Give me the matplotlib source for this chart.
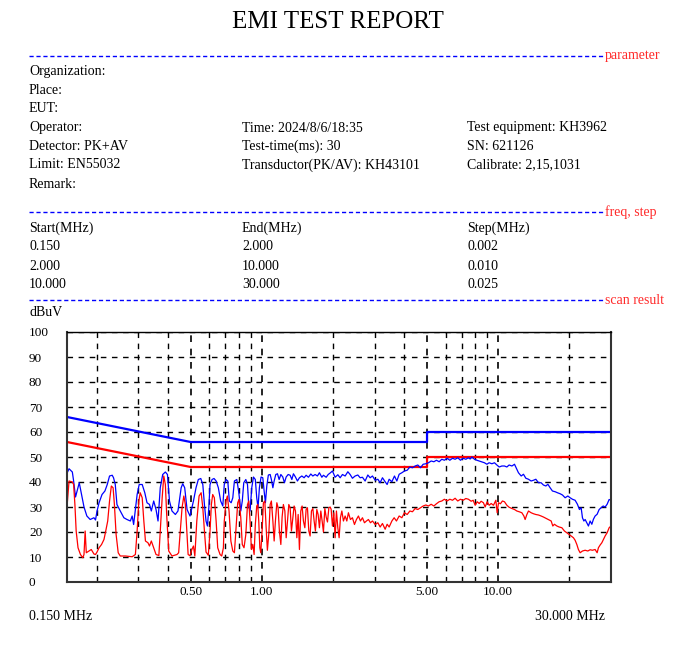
import matplotlib
matplotlib.use("Agg")
import matplotlib.pyplot as plt
from matplotlib.lines import Line2D
from matplotlib.ticker import NullFormatter

plt.rcParams['font.family'] = ['Liberation Serif', 'DejaVu Serif']

# ---- report fields ----
info_rows = [
    ["Organization:", "", ""],
    ["Place:", "", ""],
    ["EUT:", "", ""],
    ["Operator:", "Time: 2024/8/6/18:35", "Test equipment: KH3962"],
    ["Detector: PK+AV", "Test-time(ms): 30", "SN: 621126"],
    ["Limit: EN55032", "Transductor(PK/AV): KH43101", "Calibrate: 2,15,1031"],
    ["Remark:", "", ""],
]
range_header = ["Start(MHz)", "End(MHz)", "Step(MHz)"]
range_rows = [
    ["0.150", "2.000", "0.002"],
    ["2.000", "10.000", "0.010"],
    ["10.000", "30.000", "0.025"],
]

# ---- limits (EN55032, QP / AV) ----
lim_freq = [0.15, 0.5, 5.0, 5.0, 30.0]
lim_qp = [66, 56, 56, 60, 60]
lim_av = [56, 46, 46, 50, 50]

# ---- peak trace (MHz, dBuV) ----
pk_freq = [
    0.150, 0.153, 0.158, 0.160, 0.163, 0.169, 0.177, 0.182, 0.188, 0.195,
    0.198, 0.201, 0.205, 0.211, 0.217, 0.222, 0.227, 0.233, 0.236, 0.240,
    0.244, 0.252, 0.261, 0.269, 0.278, 0.283, 0.287, 0.297, 0.303, 0.312,
    0.320, 0.327, 0.335, 0.341, 0.349, 0.357, 0.364, 0.372, 0.381, 0.391,
    0.399, 0.407, 0.417, 0.431, 0.442, 0.448, 0.456, 0.463, 0.472, 0.483,
    0.497, 0.514, 0.527, 0.539, 0.552, 0.563, 0.572, 0.581, 0.589, 0.597,
    0.604, 0.616, 0.628, 0.641, 0.655, 0.670, 0.684, 0.694, 0.706, 0.718,
    0.729, 0.742, 0.754, 0.766, 0.784, 0.799, 0.815, 0.827, 0.839, 0.856,
    0.870, 0.881, 0.892, 0.907, 0.922, 0.939, 0.952, 0.964, 0.977, 0.993,
    1.010, 1.023, 1.036, 1.050, 1.066, 1.085, 1.098, 1.114, 1.128, 1.146,
    1.165, 1.184, 1.204, 1.227, 1.247, 1.268, 1.293, 1.318, 1.340, 1.361,
    1.388, 1.415, 1.443, 1.477, 1.510, 1.540, 1.575, 1.612, 1.644, 1.681,
    1.719, 1.753, 1.795, 1.823, 1.872, 1.909, 1.946, 1.990, 2.043, 2.097,
    2.145, 2.194, 2.252, 2.312, 2.364, 2.418, 2.482, 2.548, 2.607, 2.666,
    2.736, 2.809, 2.873, 2.939, 3.017, 3.097, 3.167, 3.239, 3.325, 3.390,
    3.457, 3.550, 3.641, 3.726, 3.811, 3.913, 4.013, 4.120, 4.230, 4.338,
    4.453, 4.572, 4.690, 4.815, 4.943, 5.070, 5.205, 5.344, 5.480, 5.627,
    5.773, 5.921, 6.080, 6.242, 6.410, 6.571, 6.745, 6.925, 7.109, 7.297,
    7.484, 7.610, 7.738, 7.936, 8.126, 8.311, 8.525, 8.744, 8.954, 9.157,
    9.403, 9.644, 9.871, 10.10, 10.36, 10.63, 10.88, 11.12, 11.43, 11.72,
    11.99, 12.18, 12.51, 12.79, 13.09, 13.43, 13.78, 14.10, 14.43, 14.80,
    15.19, 15.53, 15.91, 16.22, 16.58, 16.96, 17.42, 17.81, 18.28, 18.70,
    19.19, 19.70, 20.15, 20.61, 21.15, 21.63, 22.06, 22.43, 22.72, 23.03,
    23.32, 23.71, 24.08, 24.48, 24.89, 25.28, 25.70, 26.21, 26.73, 27.25,
    27.79, 28.33, 28.89, 29.46, 30.00,
]
pk_level = [
    43.5, 45.3, 44.0, 40.4, 34.0, 39.7, 30.0, 26.4, 25.0, 25.7,
    24.8, 28.4, 31.7, 35.0, 36.4, 39.0, 42.4, 42.7, 41.7, 39.0,
    31.0, 28.4, 25.7, 25.0, 24.4, 26.4, 23.0, 35.0, 39.0, 39.0,
    35.7, 31.7, 31.0, 28.4, 32.4, 29.0, 24.4, 37.7, 43.0, 44.0,
    43.0, 32.4, 28.4, 27.0, 28.4, 32.4, 37.7, 39.3, 37.7, 29.0,
    26.4, 32.4, 37.7, 41.0, 41.4, 39.0, 31.0, 24.4, 22.4, 29.7,
    39.0, 41.0, 41.4, 40.4, 37.7, 32.4, 30.4, 39.0, 41.0, 40.4,
    32.4, 31.7, 33.7, 40.4, 41.0, 36.0, 28.4, 32.4, 39.7, 41.0,
    39.0, 30.4, 28.4, 37.7, 42.0, 41.0, 33.7, 29.7, 37.7, 42.0,
    41.7, 36.4, 31.7, 38.4, 42.8, 43.0, 41.0, 37.7, 40.4, 43.0,
    43.3, 41.0, 43.0, 42.0, 39.7, 42.0, 43.0, 42.7, 41.0, 43.3,
    42.0, 40.4, 41.7, 42.4, 41.7, 42.7, 41.9, 43.2, 42.4, 43.0,
    42.4, 43.7, 41.9, 42.7, 41.9, 43.0, 43.6, 44.4, 41.9, 42.9,
    41.7, 43.0, 42.4, 44.1, 43.0, 41.5, 42.4, 42.8, 41.7, 41.9,
    40.4, 42.8, 41.7, 42.4, 40.7, 41.1, 39.7, 41.7, 40.1, 39.0,
    41.1, 40.1, 42.4, 40.4, 43.1, 43.7, 44.4, 44.7, 46.0, 45.7,
    46.4, 46.8, 45.7, 47.1, 47.3, 47.7, 48.4, 48.1, 48.7, 48.1,
    49.1, 48.7, 49.5, 48.7, 49.5, 49.1, 49.7, 48.7, 49.5, 49.1,
    49.7, 49.2, 50.0, 49.1, 48.7, 48.4, 48.1, 47.7, 47.1, 47.7,
    47.3, 47.7, 46.8, 46.0, 46.4, 46.4, 46.0, 46.8, 46.4, 47.1,
    45.1, 43.7, 42.4, 43.1, 41.5, 41.1, 40.4, 40.7, 41.1, 39.7,
    39.7, 38.8, 38.4, 39.1, 37.7, 36.4, 36.1, 35.7, 35.3, 34.8,
    33.7, 34.4, 33.7, 33.1, 32.7, 31.1, 29.0, 29.7, 25.7, 24.4,
    25.0, 23.7, 22.4, 24.4, 23.1, 25.1, 26.4, 27.1, 29.0, 29.7,
    30.4, 30.0, 31.1, 33.0, 32.7,
]

# ---- average trace (MHz, dBuV) ----
av_freq = [
    0.150, 0.153, 0.158, 0.160, 0.162, 0.164, 0.167, 0.171, 0.175, 0.177,
    0.179, 0.181, 0.185, 0.190, 0.195, 0.198, 0.201, 0.205, 0.210, 0.215,
    0.218, 0.223, 0.227, 0.231, 0.235, 0.238, 0.242, 0.247, 0.252, 0.265,
    0.283, 0.292, 0.297, 0.302, 0.306, 0.312, 0.317, 0.322, 0.330, 0.335,
    0.341, 0.349, 0.357, 0.367, 0.372, 0.379, 0.385, 0.391, 0.396, 0.404,
    0.417, 0.438, 0.445, 0.452, 0.460, 0.468, 0.475, 0.488, 0.497, 0.506,
    0.514, 0.521, 0.531, 0.543, 0.554, 0.563, 0.572, 0.581, 0.594, 0.604,
    0.612, 0.620, 0.630, 0.641, 0.651, 0.666, 0.677, 0.688, 0.694, 0.706,
    0.715, 0.727, 0.740, 0.754, 0.766, 0.778, 0.791, 0.801, 0.815, 0.827,
    0.841, 0.856, 0.870, 0.881, 0.892, 0.904, 0.916, 0.928, 0.939, 0.952,
    0.961, 0.971, 0.981, 0.990, 1.003, 1.016, 1.030, 1.043, 1.056, 1.071,
    1.085, 1.098, 1.114, 1.128, 1.142, 1.158, 1.172, 1.187, 1.204, 1.219,
    1.234, 1.252, 1.268, 1.284, 1.301, 1.318, 1.335, 1.353, 1.370, 1.388,
    1.407, 1.425, 1.443, 1.462, 1.481, 1.500, 1.521, 1.540, 1.560, 1.581,
    1.601, 1.622, 1.644, 1.665, 1.686, 1.709, 1.731, 1.753, 1.777, 1.800,
    1.823, 1.848, 1.872, 1.896, 1.922, 1.946, 1.965, 1.990, 2.017, 2.043,
    2.069, 2.097, 2.124, 2.151, 2.181, 2.215, 2.252, 2.289, 2.325, 2.371,
    2.418, 2.466, 2.514, 2.563, 2.614, 2.666, 2.718, 2.771, 2.825, 2.882,
    2.939, 3.017, 3.097, 3.167, 3.239, 3.325, 3.390, 3.457, 3.550, 3.630,
    3.712, 3.811, 3.913, 4.013, 4.120, 4.230, 4.338, 4.453, 4.572, 4.690,
    4.815, 4.943, 5.070, 5.205, 5.344, 5.480, 5.627, 5.773, 5.921, 6.080,
    6.242, 6.410, 6.571, 6.745, 6.925, 7.109, 7.297, 7.484, 7.685, 7.836,
    7.993, 8.150, 8.311, 8.467, 8.659, 8.807, 8.980, 9.157, 9.339, 9.550,
    9.775, 9.900, 10.03, 10.22, 10.42, 10.63, 10.88, 11.12, 11.43, 11.72,
    11.99, 12.27, 12.59, 12.84, 13.00, 13.22, 13.43, 13.78, 14.10, 14.43,
    14.80, 15.19, 15.53, 15.91, 16.31, 16.75, 17.02, 17.29, 17.71, 18.11,
    18.59, 19.06, 19.51, 19.96, 20.35, 20.81, 21.15, 21.51, 21.84, 22.21,
    22.72, 23.32, 23.94, 24.48, 25.03, 25.70, 26.21, 26.54, 26.99, 27.44,
    27.87, 28.33, 28.89, 29.46, 30.00,
]
av_level = [
    30.0, 40.4, 40.0, 39.0, 31.0, 20.4, 13.7, 11.0, 9.7, 11.0,
    20.4, 11.7, 12.3, 13.0, 11.2, 11.0, 12.0, 13.7, 15.0, 17.0,
    19.7, 24.4, 32.4, 38.4, 37.7, 31.0, 19.0, 11.7, 10.4, 10.4,
    10.1, 11.0, 20.4, 32.4, 35.7, 33.7, 24.4, 16.4, 15.7, 14.4,
    16.4, 13.7, 11.0, 10.6, 20.4, 33.7, 42.4, 39.0, 27.0, 12.4,
    10.4, 11.0, 11.7, 20.4, 29.7, 34.4, 31.0, 11.0, 10.5, 13.0,
    14.4, 10.4, 24.4, 34.4, 35.7, 29.7, 20.4, 12.0, 10.7, 20.4,
    31.0, 35.0, 33.7, 24.4, 13.7, 11.0, 10.4, 13.7, 24.4, 32.4,
    34.4, 28.4, 16.4, 12.4, 11.7, 21.7, 31.7, 33.0, 25.7, 15.0,
    13.7, 19.0, 31.0, 32.4, 24.4, 13.0, 15.0, 11.0, 23.0, 30.4,
    31.0, 24.4, 13.7, 11.7, 20.4, 31.7, 32.4, 22.0, 12.7, 19.4,
    31.0, 32.4, 24.4, 16.4, 24.4, 31.7, 29.7, 20.4, 15.0, 26.0,
    31.0, 28.4, 17.7, 24.4, 31.0, 29.7, 20.4, 25.7, 30.4, 28.4,
    17.7, 27.0, 13.0, 28.4, 30.4, 24.4, 21.7, 29.0, 29.7, 20.4,
    18.4, 28.4, 29.4, 24.4, 20.4, 29.0, 27.0, 21.7, 28.4, 24.4,
    20.0, 29.4, 26.0, 24.0, 29.7, 30.0, 29.1, 22.4, 27.7, 17.7,
    28.4, 21.7, 17.7, 25.7, 28.4, 24.4, 26.4, 24.4, 27.7, 25.0,
    25.7, 23.0, 25.0, 26.4, 24.4, 25.7, 23.7, 24.4, 25.0, 23.7,
    24.4, 23.0, 23.7, 22.0, 23.4, 21.1, 23.1, 22.0, 24.4, 25.7,
    24.4, 26.4, 25.7, 27.7, 27.0, 28.4, 28.1, 29.4, 29.0, 29.7,
    30.4, 30.8, 30.4, 31.1, 30.4, 31.3, 32.1, 32.4, 33.1, 32.4,
    33.1, 32.7, 33.5, 32.4, 33.1, 32.7, 33.4, 33.1, 32.3, 32.7,
    30.7, 32.1, 31.4, 32.3, 31.7, 30.0, 32.1, 30.7, 31.4, 30.7,
    32.7, 27.7, 31.7, 31.3, 32.4, 32.1, 30.7, 29.9, 29.4, 29.0,
    28.4, 28.1, 27.7, 26.4, 25.0, 27.0, 28.4, 27.7, 27.3, 27.0,
    26.8, 26.4, 26.0, 25.5, 25.0, 24.4, 22.4, 23.1, 22.4, 22.0,
    21.7, 20.4, 19.7, 19.0, 18.4, 17.7, 16.7, 15.0, 13.0, 11.7,
    12.4, 12.7, 12.4, 12.9, 12.7, 13.0, 11.7, 13.7, 14.8, 15.7,
    17.0, 18.4, 19.7, 21.7, 22.4,
]

# ---- axis ticks ----
y_ticks = list(range(0, 101, 10))
x_major = [0.5, 1.0, 5.0, 10.0]
x_major_labels = ["0.50", "1.00", "5.00", "10.00"]
x_minor = [0.2, 0.3, 0.4, 0.6, 0.7, 0.8, 0.9, 2, 3, 4, 6, 7, 8, 9, 20]

W, H = 690, 660
fig = plt.figure(figsize=(W / 100, H / 100), dpi=100)
FS = 10


def put(x, y, s, **kw):
    # x, y in pixels from top-left
    fig.text(x / W, 1 - y / H, s, va='center', fontsize=kw.pop('fontsize', FS), **kw)


def sep(y, label):
    fig.add_artist(Line2D([29 / W, 604 / W], [1 - y / H, 1 - y / H],
                          transform=fig.transFigure, color='#0000ff',
                          lw=1, linestyle=(0, (3, 2))))
    put(605, y, label, color='#ff2a2a')


put(338, 22, "EMI TEST REPORT", ha='center', fontsize=18)

sep(56, "parameter")
cols = [29, 242, 467]
row_y = [72, 90, 109, 128, 146, 165, 184]
for y, row in zip(row_y, info_rows):
    for x, s in zip(cols, row):
        if s:
            put(x, y, s)

sep(212, "freq, step")
for x, s in zip(cols, range_header):
    put(x, 228, s)
for y, row in zip([247, 266, 284], range_rows):
    for x, s in zip(cols, row):
        put(x, y, s)

sep(300, "scan result")
put(29, 313, "dBuV")
put(29, 616, "0.150 MHz")
put(605, 616, "30.000 MHz", ha='right')

# ---- chart ----
ax = fig.add_axes([67 / W, 1 - 582 / H, (611 - 67) / W, (582 - 332) / H])
ax.plot(lim_freq, lim_qp, color='#0000ff', lw=1.6)
ax.plot(lim_freq, lim_av, color='#ff0000', lw=1.6)
ax.plot(pk_freq, pk_level, color='#0000ff', lw=0.9)
ax.plot(av_freq, av_level, color='#ff0000', lw=0.9)

ax.set_xscale('log')
ax.set_xlim(0.15, 30)
ax.set_ylim(0, 100)
ax.set_xticks(x_major, labels=x_major_labels)
ax.set_xticks(x_minor, minor=True)
ax.xaxis.set_minor_formatter(NullFormatter())
ax.set_yticks(y_ticks)

ax.grid(which='major', axis='x', color='black', lw=1.2, linestyle=(0, (4, 4)))
ax.grid(which='minor', axis='x', color='black', lw=1.0, linestyle=(0, (4, 4)))
ax.grid(which='major', axis='y', color='black', lw=1.0, linestyle=(0, (4, 4)))

ax.tick_params(axis='both', which='both', length=0, labelsize=9.5)
ax.tick_params(axis='x', pad=3)
ax.tick_params(axis='y', pad=27.4)
for lbl in ax.get_yticklabels():
    lbl.set_ha('left')

for side in ['left', 'bottom', 'right']:
    ax.spines[side].set_color('#333333')
    ax.spines[side].set_linewidth(1.5)
ax.spines['top'].set_color('black')
ax.spines['top'].set_linewidth(1.0)

fig.savefig('out.png', dpi=100)
